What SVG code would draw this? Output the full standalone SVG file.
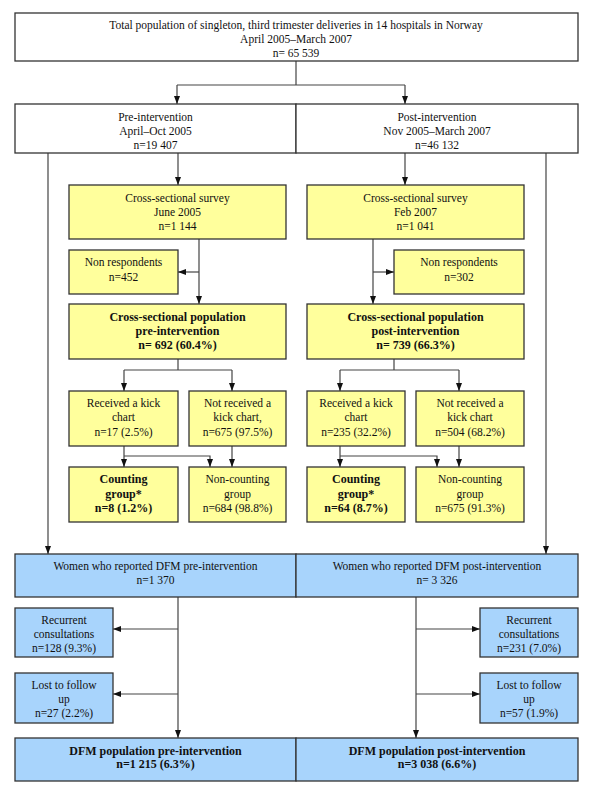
<svg xmlns="http://www.w3.org/2000/svg" width="600" height="804" viewBox="0 0 600 804">
<style>
text{font-family:"Liberation Serif","Times New Roman",serif;font-size:11.5px;fill:#111;text-anchor:middle}
.b{font-weight:bold;font-size:12px}
.w{fill:#fff;stroke:#333;stroke-width:1.3}
.y{fill:#ffff9c;stroke:#333;stroke-width:1.3}
.u{fill:#a8d4fc;stroke:#333;stroke-width:1.3}
.c path{fill:none;stroke:#444;stroke-width:1.2}
</style>
<defs>
<marker id="a" markerUnits="userSpaceOnUse" markerWidth="8" markerHeight="8" viewBox="0 0 8 8" refX="8" refY="4" orient="auto">
<path d="M0,1 L8,4 L0,7 Z" fill="#111"/>
</marker>
</defs>
<rect width="600" height="804" fill="#fff"/>
<g class="c">
<path d="M296,61 V85 M177,85 H405"/>
<path d="M177,85 V104" marker-end="url(#a)"/>
<path d="M405,85 V104" marker-end="url(#a)"/>
<path d="M48,153 V554" marker-end="url(#a)"/>
<path d="M546,153 V554" marker-end="url(#a)"/>
<path d="M178,153 V185" marker-end="url(#a)"/>
<path d="M405,153 V185" marker-end="url(#a)"/>
<path d="M199,239 V304" marker-end="url(#a)"/>
<path d="M199,272 H178" marker-end="url(#a)"/>
<path d="M373,239 V304" marker-end="url(#a)"/>
<path d="M373,272 H394" marker-end="url(#a)"/>
<path d="M178,359 V370 M124,370 H232 M394,359 V370 M340,370 H459"/>
<path d="M124,370 V391" marker-end="url(#a)"/>
<path d="M232,370 V391" marker-end="url(#a)"/>
<path d="M340,370 V391" marker-end="url(#a)"/>
<path d="M459,370 V391" marker-end="url(#a)"/>
<path d="M124,446 V467" marker-end="url(#a)"/>
<path d="M124,456 H210 V467" marker-end="url(#a)"/>
<path d="M232,446 V467" marker-end="url(#a)"/>
<path d="M340,446 V467" marker-end="url(#a)"/>
<path d="M340,456 H437 V467" marker-end="url(#a)"/>
<path d="M459,446 V467" marker-end="url(#a)"/>
<path d="M178,597 V738" marker-end="url(#a)"/>
<path d="M178,629 H113" marker-end="url(#a)"/>
<path d="M178,694 H113" marker-end="url(#a)"/>
<path d="M416,597 V738" marker-end="url(#a)"/>
<path d="M416,629 H480" marker-end="url(#a)"/>
<path d="M416,694 H480" marker-end="url(#a)"/>
</g>
<g id="total"><rect class="w" x="15" y="13" width="563" height="48"/>
<text x="296" y="29">Total population of singleton, third trimester deliveries in 14 hospitals in Norway</text>
<text x="296" y="43">April 2005–March 2007</text>
<text x="296" y="57">n= 65 539</text></g>
<g id="pre"><rect class="w" x="15" y="104" width="281" height="49"/>
<text x="155.5" y="121">Pre-intervention</text><text x="155.5" y="135">April–Oct 2005</text><text x="155.5" y="149">n=19 407</text></g>
<g id="post"><rect class="w" x="296" y="104" width="282" height="49"/>
<text x="437" y="121">Post-intervention</text><text x="437" y="135">Nov 2005–March 2007</text><text x="437" y="149">n=46 132</text></g>
<g id="survey-pre"><rect class="y" x="69" y="185" width="217" height="54"/>
<text x="177.5" y="202">Cross-sectional survey</text><text x="177.5" y="216">June 2005</text><text x="177.5" y="230">n=1 144</text></g>
<g id="survey-post"><rect class="y" x="307" y="185" width="217" height="54"/>
<text x="415.5" y="202">Cross-sectional survey</text><text x="415.5" y="216">Feb 2007</text><text x="415.5" y="230">n=1 041</text></g>
<g id="nonresp-pre"><rect class="y" x="69" y="250" width="109" height="44"/>
<text x="123.5" y="266">Non respondents</text><text x="123.5" y="281">n=452</text></g>
<g id="nonresp-post"><rect class="y" x="394" y="250" width="130" height="44"/>
<text x="459" y="266">Non respondents</text><text x="459" y="281">n=302</text></g>
<g id="pop-pre"><rect class="y" x="69" y="304" width="217" height="55"/>
<text class="b" x="177.5" y="321">Cross-sectional population</text><text class="b" x="177.5" y="335">pre-intervention</text><text class="b" x="177.5" y="349">n= 692 (60.4%)</text></g>
<g id="pop-post"><rect class="y" x="307" y="304" width="217" height="55"/>
<text class="b" x="415.5" y="321">Cross-sectional population</text><text class="b" x="415.5" y="335">post-intervention</text><text class="b" x="415.5" y="349">n= 739 (66.3%)</text></g>
<g id="recv-pre"><rect class="y" x="69" y="391" width="109" height="55"/>
<text x="123.5" y="407">Received a kick</text><text x="123.5" y="421">chart</text><text x="123.5" y="436">n=17 (2.5%)</text></g>
<g id="notrecv-pre"><rect class="y" x="189" y="391" width="97" height="55"/>
<text x="237.5" y="407">Not received a</text><text x="237.5" y="421">kick chart,</text><text x="237.5" y="436">n=675 (97.5%)</text></g>
<g id="recv-post"><rect class="y" x="307" y="391" width="98" height="55"/>
<text x="356" y="407">Received a kick</text><text x="356" y="421">chart</text><text x="356" y="436">n=235 (32.2%)</text></g>
<g id="notrecv-post"><rect class="y" x="416" y="391" width="108" height="55"/>
<text x="470" y="407">Not received a</text><text x="470" y="421">kick chart</text><text x="470" y="436">n=504 (68.2%)</text></g>
<g id="count-pre"><rect class="y" x="69" y="467" width="109" height="55"/>
<text class="b" x="123.5" y="483">Counting</text><text class="b" x="123.5" y="498">group*</text><text class="b" x="123.5" y="512">n=8 (1.2%)</text></g>
<g id="noncount-pre"><rect class="y" x="189" y="467" width="97" height="55"/>
<text x="237.5" y="483">Non-counting</text><text x="237.5" y="498">group</text><text x="237.5" y="512">n=684 (98.8%)</text></g>
<g id="count-post"><rect class="y" x="307" y="467" width="98" height="55"/>
<text class="b" x="356" y="483">Counting</text><text class="b" x="356" y="498">group*</text><text class="b" x="356" y="512">n=64 (8.7%)</text></g>
<g id="noncount-post"><rect class="y" x="416" y="467" width="108" height="55"/>
<text x="470" y="483">Non-counting</text><text x="470" y="498">group</text><text x="470" y="512">n=675 (91.3%)</text></g>
<g id="women-pre"><rect class="u" x="15" y="554" width="281" height="43"/>
<text x="155.5" y="570">Women who reported DFM pre-intervention</text><text x="155.5" y="584">n=1 370</text></g>
<g id="women-post"><rect class="u" x="296" y="554" width="282" height="43"/>
<text x="437" y="570">Women who reported DFM post-intervention</text><text x="437" y="584">n= 3 326</text></g>
<g id="recur-pre"><rect class="u" x="15" y="608" width="98" height="49"/>
<text x="64" y="624">Recurrent</text><text x="64" y="638">consultations</text><text x="64" y="652">n=128 (9.3%)</text></g>
<g id="recur-post"><rect class="u" x="480" y="608" width="98" height="49"/>
<text x="529" y="624">Recurrent</text><text x="529" y="638">consultations</text><text x="529" y="652">n=231 (7.0%)</text></g>
<g id="lost-pre"><rect class="u" x="15" y="673" width="98" height="50"/>
<text x="64" y="689">Lost to follow</text><text x="64" y="703">up</text><text x="64" y="717">n=27 (2.2%)</text></g>
<g id="lost-post"><rect class="u" x="480" y="673" width="98" height="50"/>
<text x="529" y="689">Lost to follow</text><text x="529" y="703">up</text><text x="529" y="717">n=57 (1.9%)</text></g>
<g id="dfm-pre"><rect class="u" x="15" y="738" width="281" height="43"/>
<text class="b" x="155.5" y="755">DFM population pre-intervention</text><text class="b" x="155.5" y="768">n=1 215 (6.3%)</text></g>
<g id="dfm-post"><rect class="u" x="296" y="738" width="282" height="43"/>
<text class="b" x="437" y="755">DFM population post-intervention</text><text class="b" x="437" y="768">n=3 038 (6.6%)</text></g>
</svg>
